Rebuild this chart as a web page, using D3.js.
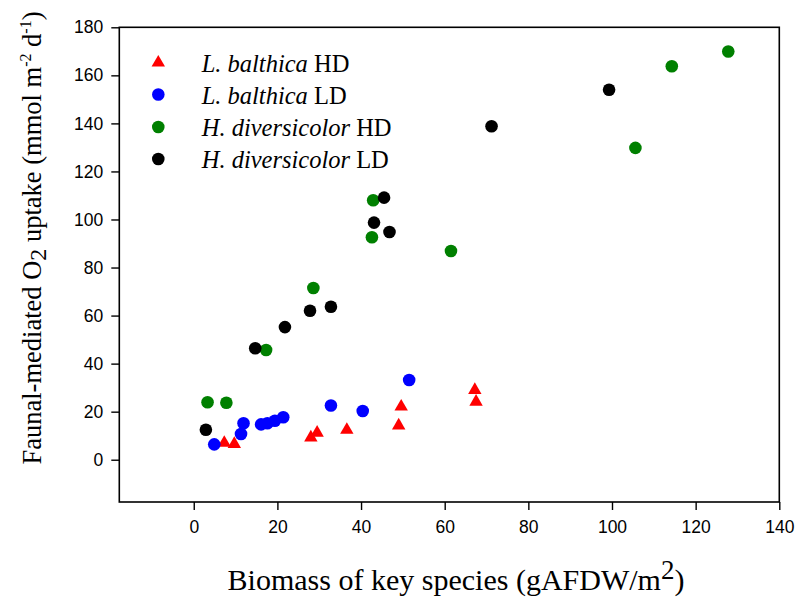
<!DOCTYPE html>
<html>
<head>
<meta charset="utf-8">
<script src="https://cdn.jsdelivr.net/npm/d3@7"></script>
<style>
  html, body { margin: 0; padding: 0; background: #fff; }
  svg { display: block; }
</style>
</head>
<body>
<svg id="chart" width="795" height="598"></svg>
<script>
// ---- Data ----
const seriesNames = ["L. balthica HD", "L. balthica LD", "H. diversicolor HD", "H. diversicolor LD"];
const seriesItalic = ["L. balthica", "L. balthica", "H. diversicolor", "H. diversicolor"];
const seriesSuffix = [" HD", " LD", " HD", " LD"];
const seriesColors = ["#ff0000", "#0000ff", "#008000", "#000000"];
const seriesShapes = ["triangle", "circle", "circle", "circle"];

const lbHD_x = [7.3, 9.7, 28.0, 29.5, 36.6, 49.6, 49.0, 67.2, 67.5];
const lbHD_y = [7.0, 6.5, 9.2, 11.2, 12.4, 22.1, 14.2, 29.0, 24.1];

const lbLD_x = [4.9, 11.3, 11.9, 16.1, 17.6, 19.4, 21.4, 32.8, 40.4, 51.5];
const lbLD_y = [6.4, 10.7, 15.2, 14.7, 15.2, 16.2, 17.7, 22.6, 20.3, 33.2];

const hdHD_x = [3.3, 7.8, 17.3, 28.6, 42.9, 42.6, 61.5, 105.6, 114.3, 127.8];
const hdHD_y = [23.9, 23.7, 45.7, 71.5, 108.0, 92.6, 86.9, 129.8, 163.8, 169.9];

const hdLD_x = [2.9, 14.7, 21.8, 27.8, 32.8, 43.1, 45.5, 46.8, 71.2, 99.3];
const hdLD_y = [12.5, 46.4, 55.2, 62.0, 63.7, 98.7, 109.1, 94.8, 138.8, 154.0];

const xTicks = [0, 20, 40, 60, 80, 100, 120, 140];
const yTicks = [0, 20, 40, 60, 80, 100, 120, 140, 160, 180];
const xDomain = [-17.8, 140];
const yDomain = [-17.6, 180];

const seriesX = [lbHD_x, lbLD_x, hdHD_x, hdLD_x];
const seriesY = [lbHD_y, lbLD_y, hdHD_y, hdLD_y];

// ---- Layout ----
const svg = d3.select("#chart");
const plotL = 119.3, plotR = 779.3, plotT = 27.3, plotB = 502;

const x = d3.scaleLinear().domain(xDomain).range([plotL, plotR]);
const y = d3.scaleLinear().domain(yDomain).range([plotB, plotT]);

// frame
svg.append("rect")
  .attr("x", plotL).attr("y", plotT)
  .attr("width", plotR - plotL).attr("height", plotB - plotT)
  .attr("fill", "none").attr("stroke", "#000").attr("stroke-width", 1.6);

const tickFont = "'Liberation Sans', Arial, sans-serif";

const xAxis = svg.append("g")
  .attr("transform", `translate(0,${plotB})`)
  .call(d3.axisBottom(x).tickValues(xTicks).tickSize(8).tickPadding(11).tickFormat(d3.format("d")));
const yAxis = svg.append("g")
  .attr("transform", `translate(${plotL},0)`)
  .call(d3.axisLeft(y).tickValues(yTicks).tickSize(8).tickPadding(8).tickFormat(d3.format("d")));

[xAxis, yAxis].forEach(g => {
  g.select(".domain").remove();
  g.selectAll(".tick line").attr("stroke", "#000").attr("stroke-width", 1.4);
  g.selectAll(".tick text")
    .attr("fill", "#000")
    .style("font-family", tickFont)
    .style("font-size", "17.5px");
});

// ---- Points ----
const triangle = d3.symbol().type(d3.symbolTriangle).size(78);
seriesNames.forEach((name, i) => {
  const pts = seriesX[i].map((vx, j) => ({ x: vx, y: seriesY[i][j] }));
  const g = svg.append("g").attr("class", "series");
  if (seriesShapes[i] === "triangle") {
    g.selectAll("path").data(pts).enter().append("path")
      .attr("d", triangle)
      .attr("transform", d => `translate(${x(d.x)},${y(d.y)})`)
      .attr("fill", seriesColors[i]);
  } else {
    g.selectAll("circle").data(pts).enter().append("circle")
      .attr("cx", d => x(d.x)).attr("cy", d => y(d.y))
      .attr("r", 6.3)
      .attr("fill", seriesColors[i]);
  }
});

// ---- Legend ----
const serif = "'Liberation Serif', 'Times New Roman', serif";
const legend = svg.append("g");
const rowY = [62.7, 94.5, 127, 159];
seriesNames.forEach((name, i) => {
  const ry = rowY[i];
  if (seriesShapes[i] === "triangle") {
    legend.append("path").attr("d", triangle)
      .attr("transform", `translate(158.3,${ry})`)
      .attr("fill", seriesColors[i]);
  } else {
    legend.append("circle").attr("cx", 158.3).attr("cy", ry).attr("r", 6.3)
      .attr("fill", seriesColors[i]);
  }
  const t = legend.append("text")
    .attr("x", 201.7).attr("y", ry + 9)
    .style("font-family", serif).style("font-size", "24.5px").attr("fill", "#000");
  t.append("tspan").style("font-style", "italic").text(seriesItalic[i]);
  t.append("tspan").text(seriesSuffix[i]);
});

// ---- Axis titles ----
const xt = svg.append("text")
  .attr("x", 456).attr("y", 590)
  .attr("text-anchor", "middle")
  .style("font-family", serif).style("font-size", "30px").attr("fill", "#000");
xt.append("tspan").text("Biomass of key species (gAFDW/m");
xt.append("tspan").attr("dy", -11).style("font-size", "27px").text("2");
xt.append("tspan").attr("dy", 11).text(")");

const yt = svg.append("text")
  .attr("transform", `translate(41,238) rotate(-90)`)
  .attr("text-anchor", "middle")
  .style("font-family", serif).style("font-size", "26.5px").attr("fill", "#000");
yt.append("tspan").text("Faunal-mediated O");
yt.append("tspan").attr("dy", 5).style("font-size", "24px").text("2");
yt.append("tspan").attr("dy", -5).text(" uptake (mmol m");
yt.append("tspan").attr("dy", -10).style("font-size", "16px").text("-2");
yt.append("tspan").attr("dy", 10).text(" d");
yt.append("tspan").attr("dy", -10).style("font-size", "16px").text("-1");
yt.append("tspan").attr("dy", 10).text(")");
</script>
</body>
</html>
